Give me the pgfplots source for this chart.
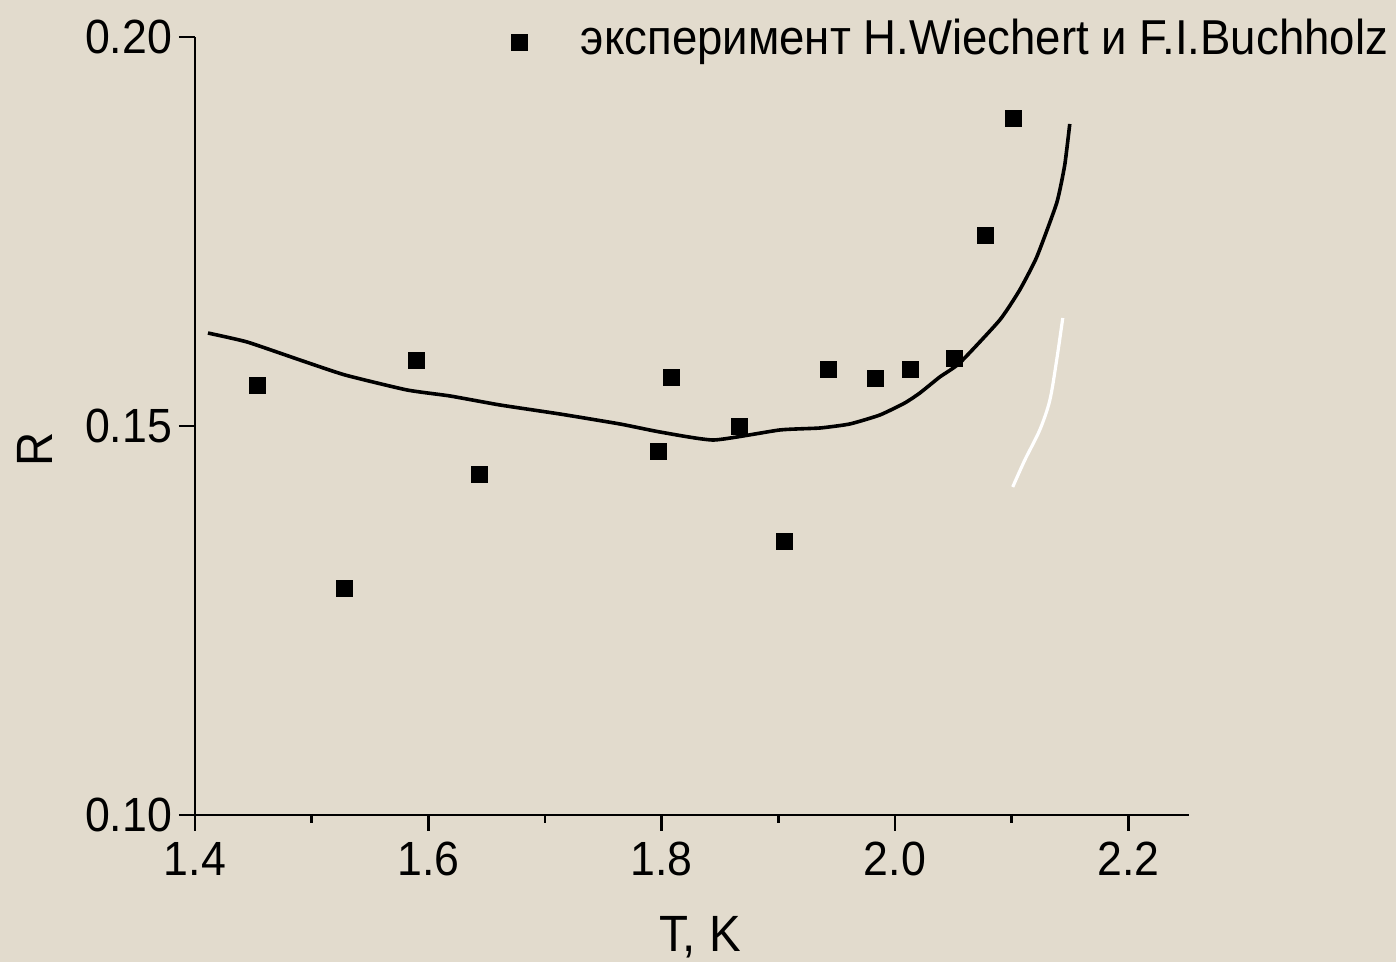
\documentclass[border=0pt]{standalone}
\usepackage{fontspec}
\setmainfont[FakeStretch=0.93]{Liberation Sans}
\usepackage{pgfplots}
\pgfplotsset{compat=1.18}
\definecolor{bg}{RGB}{226,219,205}
\begin{document}
\begin{tikzpicture}
\fill[bg] (-97.5pt,-73.5pt) rectangle (600.5pt,407.5pt);
\path[use as bounding box] (-97.5pt,-73.5pt) rectangle (600.5pt,407.5pt);
\begin{axis}[
  at={(0pt,0pt)}, anchor=south west,
  scale only axis, width=497pt, height=389pt,
  xmin=1.4, xmax=2.252, ymin=0.10, ymax=0.20,
  axis x line*=bottom, axis y line*=left,
  axis line style={line width=1.4pt, -},
  xtick={1.4,1.6,1.8,2.0,2.2}, minor xtick={1.5,1.7,1.9,2.1},
  ytick={0.10,0.15,0.20},
  scaled ticks=false,
  tick align=outside, tick style={line width=1.4pt, black},
  major tick length=8pt, minor tick length=4pt,
  /pgf/number format/assume math mode=true,
  xticklabel style={/pgf/number format/fixed, /pgf/number format/fixed zerofill, /pgf/number format/precision=1, yshift=-2pt},
  yticklabel style={/pgf/number format/fixed, /pgf/number format/fixed zerofill, /pgf/number format/precision=2},
  tick label style={font=\fontsize{24}{28}\selectfont},
  xlabel={T, K}, ylabel={R},
  label style={font=\fontsize{25.5}{30}\selectfont},
  xlabel style={at={(axis description cs:0.508,-0.175)}, anchor=base},
  ylabel style={at={(axis description cs:-0.161,0.470)}, anchor=center, rotate=0},
  clip=false,
  legend style={at={(axis description cs:1.2002,1.0231)}, anchor=north east,
    draw=none, fill=none, inner sep=0pt, outer sep=0pt,
    nodes={inner sep=0pt, font=\fontsize{24.5}{29}\selectfont}},
  legend image code/.code={\path[draw=none,fill=none] (-4pt,0pt) -- (31pt,0pt); \draw[#1, yshift=-2pt] plot coordinates {(0pt,0pt)};},
]
\addplot[only marks, mark=square*, mark size=4pt, black] coordinates {
(1.4531,0.15527) (1.5277,0.12918) (1.5902,0.15848) (1.6442,0.14383)
(1.7976,0.14679) (1.8087,0.15630) (1.8670,0.15000) (1.9056,0.13522)
(1.9433,0.15733) (1.9835,0.15617) (2.0135,0.15733) (2.0512,0.15874)
(2.0778,0.17455) (2.1018,0.18959)
};
\addlegendentry{эксперимент H.Wiechert и F.I.Buchholz}
\addplot[black, line width=1.8pt, smooth, tension=0.3, mark=none, forget plot] coordinates {
(1.4111,0.16195) (1.4446,0.16080) (1.4900,0.15848) (1.5285,0.15656)
(1.5817,0.15463) (1.6185,0.15386) (1.6614,0.15270) (1.7128,0.15154)
(1.7642,0.15026) (1.7985,0.14923) (1.8447,0.14820) (1.9013,0.14949)
(1.9356,0.14974) (1.9613,0.15026) (1.9870,0.15141) (2.0084,0.15296)
(2.0213,0.15424) (2.0384,0.15630) (2.0555,0.15810) (2.0898,0.16362)
(2.1069,0.16748) (2.1215,0.17172) (2.1386,0.17866) (2.1455,0.18355)
(2.1498,0.18882)
};
\addplot[white, line width=1.6pt, smooth, mark=none, forget plot] coordinates {
(2.1009,0.14216) (2.1112,0.14560) (2.1241,0.14949) (2.1327,0.15330)
(2.1386,0.15850) (2.1438,0.16388)
};
\end{axis}
\end{tikzpicture}
\end{document}
